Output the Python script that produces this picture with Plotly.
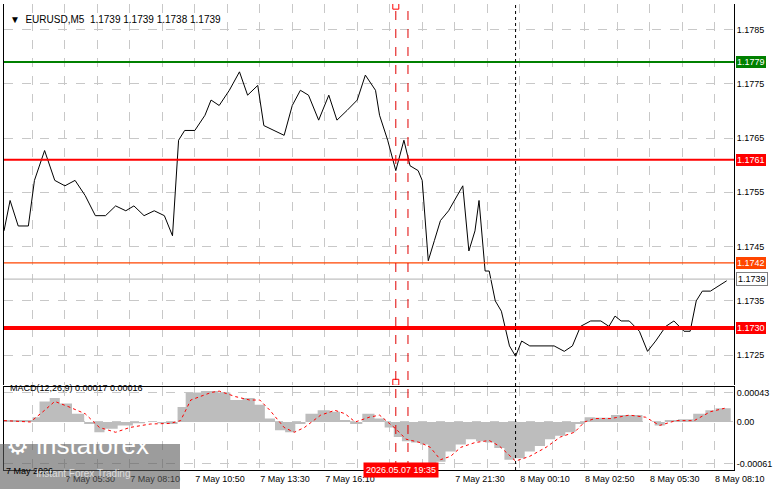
import plotly.graph_objects as go

# price trace, bar index (5 min bars from 7 May 03:00) and close
price_bars = [0, 3, 7, 12, 15, 20, 25, 30, 35, 40, 45, 50, 55, 60, 64, 69, 74, 79, 83, 86,
              89, 94, 99, 102, 106, 111, 116, 120, 125, 128, 133, 138, 142, 146, 150, 155,
              160, 164, 169, 174, 178, 183, 185, 189, 193, 197, 200, 204, 206, 209, 212, 215,
              219, 222, 226, 229, 232, 234, 237, 239, 242, 245, 249, 252, 255, 259, 264, 268,
              271, 276, 280, 284, 289, 294, 298, 301, 304, 308, 313, 317, 321, 326, 330, 335,
              338, 341, 344, 348, 352, 356]
price_close = [1.17479, 1.17535, 1.17488, 1.17488, 1.17572, 1.17627, 1.17572, 1.17562, 1.17572,
               1.17544, 1.17507, 1.17507, 1.17525, 1.17516, 1.17525, 1.17507, 1.17516, 1.17507,
               1.17470, 1.17646, 1.17664, 1.17664, 1.17692, 1.17720, 1.17710, 1.17738, 1.17772,
               1.17729, 1.17747, 1.17673, 1.17664, 1.17655, 1.17710, 1.17738, 1.17729, 1.17683,
               1.17729, 1.17683, 1.17701, 1.17720, 1.17766, 1.17738, 1.17692, 1.17646, 1.17590,
               1.17646, 1.17599, 1.17590, 1.17572, 1.17424, 1.17461, 1.17498, 1.17516, 1.17535,
               1.17562, 1.17442, 1.17479, 1.17535, 1.17405, 1.17405, 1.17350, 1.17331, 1.17267,
               1.17248, 1.17276, 1.17267, 1.17267, 1.17267, 1.17267, 1.17257, 1.17267, 1.17303,
               1.17313, 1.17313, 1.17303, 1.17322, 1.17313, 1.17313, 1.17294, 1.17257, 1.17276,
               1.17303, 1.17313, 1.17294, 1.17294, 1.17350, 1.17368, 1.17368, 1.17377, 1.17387]

# MACD histogram
hist_bars = [0, 13, 15, 20, 25, 30, 37, 42, 47, 52, 60, 67, 72, 79, 84, 87, 92, 102, 109, 114,
             121, 126, 131, 136, 141, 146, 151, 158, 163, 168, 173, 180, 185, 190, 194, 198, 203,
             207, 211, 215, 220, 225, 230, 235, 239, 244, 249, 254, 259, 264, 269, 274, 279, 284,
             288, 294, 304, 311, 318, 323, 328, 336, 343, 348, 353, 358]
hist_vals = [0.00003, 0.00003, 0.00007, 0.00030, 0.00035, 0.00027, 0.00012, -0.00003, -0.00015,
             -0.00010, -0.00005, -0.00002, 0.0, -0.00002, -0.00003, 0.00022, 0.00043, 0.00045,
             0.00043, 0.00032, 0.00035, 0.00025, 0.00005, -0.00012, -0.00015, -0.00003, 0.00012,
             0.00017, 0.00015, 0.00003, -0.00003, 0.00012, 0.00005, -0.00008, -0.00022, -0.00028,
             -0.00030, -0.00033, -0.00060, -0.00058, -0.00043, -0.00033, -0.00025, -0.00028,
             -0.00030, -0.00038, -0.00055, -0.00053, -0.00043, -0.00035, -0.00025, -0.00020,
             -0.00015, -0.00003, 0.00007, 0.00006, 0.00010, 0.00010, 0.0, -0.00005, 0.00003,
             0.00004, 0.00012, 0.00017, 0.00020, 0.00020]

# MACD signal
sig_bars = [0, 13, 20, 25, 32, 40, 47, 55, 62, 72, 82, 87, 92, 102, 106, 114, 121, 126, 131,
            138, 143, 148, 156, 163, 168, 173, 180, 185, 193, 198, 205, 210, 215, 220, 225, 232,
            239, 244, 252, 259, 267, 274, 281, 286, 291, 299, 308, 316, 323, 331, 340, 348, 355]
sig_vals = [0.00002, 0.0, 0.00017, 0.00030, 0.00022, 0.00012, -0.00008, -0.00015, -0.00008,
            -0.00003, -0.00002, 0.00002, 0.00032, 0.00043, 0.00045, 0.00037, 0.00032, 0.00032,
            0.00017, -0.00008, -0.00015, -0.00008, 0.00010, 0.00017, 0.00012, 0.0, 0.00007,
            0.00010, -0.00010, -0.00025, -0.00030, -0.00037, -0.00055, -0.00050, -0.00037,
            -0.00030, -0.00027, -0.00035, -0.00057, -0.00050, -0.00037, -0.00022, -0.00015,
            0.0, 0.00005, 0.00005, 0.00010, 0.00007, -0.00005, 0.00002, 0.00002, 0.00015, 0.00020]

# levels
levels = [1.1779, 1.1761, 1.1742, 1.1739, 1.1730]
level_colors = ["#008000", "#ff0000", "#ff4500", "#c0c0c0", "#ff0000"]
level_widths = [2, 2, 1.2, 1.2, 4]
label_bg = ["#008000", "#ff0000", "#ff4500", "#ffffff", "#ff0000"]
label_fg = ["white", "white", "white", "black", "white"]

tick_bars = [-2 + 16 * k for k in range(24)]
tick_labels = ["", "", "7 May 05:30", "", "7 May 08:10", "", "7 May 10:50", "",
               "7 May 13:30", "", "7 May 16:10", "", "", "", "7 May 21:30", "",
               "8 May 00:10", "", "8 May 02:50", "", "8 May 05:30", "", "8 May 08:10", ""]

W, H = 781, 489
L, R, T, B = 4, 47, 4, 19
FONT = "Liberation Sans"


def px(x, y):
    return (x - L) / (W - L - R), (H - B - y) / (H - T - B)


fig = go.Figure()
fig.add_trace(go.Scatter(x=price_bars, y=price_close, mode="lines",
                         line=dict(color="black", width=1), yaxis="y"))
fig.add_trace(go.Scatter(x=[193, 193], y=[1.17893, 1.17200], mode="markers", yaxis="y",
                         marker=dict(symbol="square-open", size=6, color="red")))
fig.add_trace(go.Scatter(x=hist_bars, y=hist_vals, mode="lines", fill="tozeroy",
                         line=dict(color="#c0c0c0", width=0, shape="hvh"),
                         fillcolor="#bdbdbd", yaxis="y2"))
fig.add_trace(go.Scatter(x=sig_bars, y=sig_vals, mode="lines", yaxis="y2",
                         line=dict(color="red", width=1, dash="dot")))

for lv, c, w in zip(levels, level_colors, level_widths):
    fig.add_shape(type="line", xref="paper", x0=0, x1=1, yref="y", y0=lv, y1=lv,
                  line=dict(color=c, width=w))

for b in [193, 199]:
    fig.add_shape(type="line", xref="x", x0=b, x1=b, yref="paper", y0=0, y1=1,
                  line=dict(color="#e00000", width=1, dash="dash"))
fig.add_shape(type="line", xref="x", x0=252, x1=252, yref="paper", y0=0, y1=1,
              line=dict(color="black", width=1, dash="dot"))

for lv, bg, fg in zip(levels, label_bg, label_fg):
    fig.add_annotation(x=1.003, xref="paper", y=lv, yref="y", text=f"{lv:.4f}",
                       showarrow=False, xanchor="left", bgcolor=bg, bordercolor="#808080",
                       borderwidth=1 if bg == "#ffffff" else 0, borderpad=1,
                       font=dict(size=9, color=fg, family=FONT))

fig.add_annotation(x=px(8, 0)[0], y=px(0, 12)[1], xref="paper", yref="paper", xanchor="left",
                   text="▼  EURUSD,M5  1.1739 1.1739 1.1738 1.1739", showarrow=False,
                   font=dict(size=10, color="black", family=FONT))
fig.add_annotation(x=px(8, 0)[0], y=px(0, 395)[1], xref="paper", yref="paper", xanchor="left",
                   text="MACD(12,26,9) 0.00017 0.00016", showarrow=False,
                   font=dict(size=9, color="black", family=FONT))
fig.add_annotation(x=px(4, 0)[0], y=px(0, 478)[1], xref="paper", yref="paper", xanchor="left",
                   text="7 May 2026", showarrow=False,
                   font=dict(size=9, color="black", family=FONT))
fig.add_annotation(x=px(401, 0)[0], y=px(0, 478)[1], xref="paper", yref="paper",
                   text="2026.05.07 19:35", showarrow=False, bgcolor="#ff0000", borderpad=2,
                   font=dict(size=9, color="white", family=FONT))

# logo
x0, y0 = px(0, 444)
x1, y1 = px(180, 489)
fig.add_shape(type="rect", xref="paper", yref="paper", x0=x0, x1=x1, y0=y0, y1=y1,
              fillcolor="rgba(90,90,90,0.6)", line=dict(width=0))
fig.add_annotation(x=px(4, 0)[0], y=px(0, 462)[1], xref="paper", yref="paper", xanchor="left",
                   text="⚙ instaforex", showarrow=False,
                   font=dict(size=26, color="white", family=FONT))
fig.add_annotation(x=px(34, 0)[0], y=px(0, 481)[1], xref="paper", yref="paper", xanchor="left",
                   text="Instant Forex Trading", showarrow=False,
                   font=dict(size=10, color="#dddddd", family=FONT))

grid = dict(showgrid=True, gridcolor="#c8c8c8", griddash="dash", gridwidth=1)
fig.update_layout(
    width=W, height=H, margin=dict(l=L, r=R, t=T, b=B, autoexpand=False),
    paper_bgcolor="white", plot_bgcolor="white", showlegend=False,
    font=dict(family=FONT, size=9, color="black"),
    xaxis=dict(range=[0, 359.6], tickvals=tick_bars, ticktext=tick_labels, tickangle=0,
               anchor="y2", automargin=False,
               ticklabelposition="outside right", ticks="", zeroline=False,
               showline=True, linecolor="black", mirror=True, **grid),
    yaxis=dict(domain=[px(0, 385)[1], 1], range=[1.17195, 1.17897], side="right",
               tickvals=[1.1725, 1.1735, 1.1745, 1.1755, 1.1765, 1.1775, 1.1785],
               tickformat=".4f", ticks="", zeroline=False, showline=True, automargin=False,
               linecolor="black", mirror=True, **grid),
    yaxis2=dict(domain=[0, px(0, 387)[1]], range=[-0.00070, 0.00051], side="right",
                tickvals=[0.00043, 0, -0.00061], ticktext=["0.00043", "0.00", "-0.00061"],
                ticks="", zeroline=False, showline=True, linecolor="black", mirror=True,
                automargin=False, **grid),
)
fig.write_html("out.html", config={"displayModeBar": False},
               post_script=["document.body.style.margin='0';"])
